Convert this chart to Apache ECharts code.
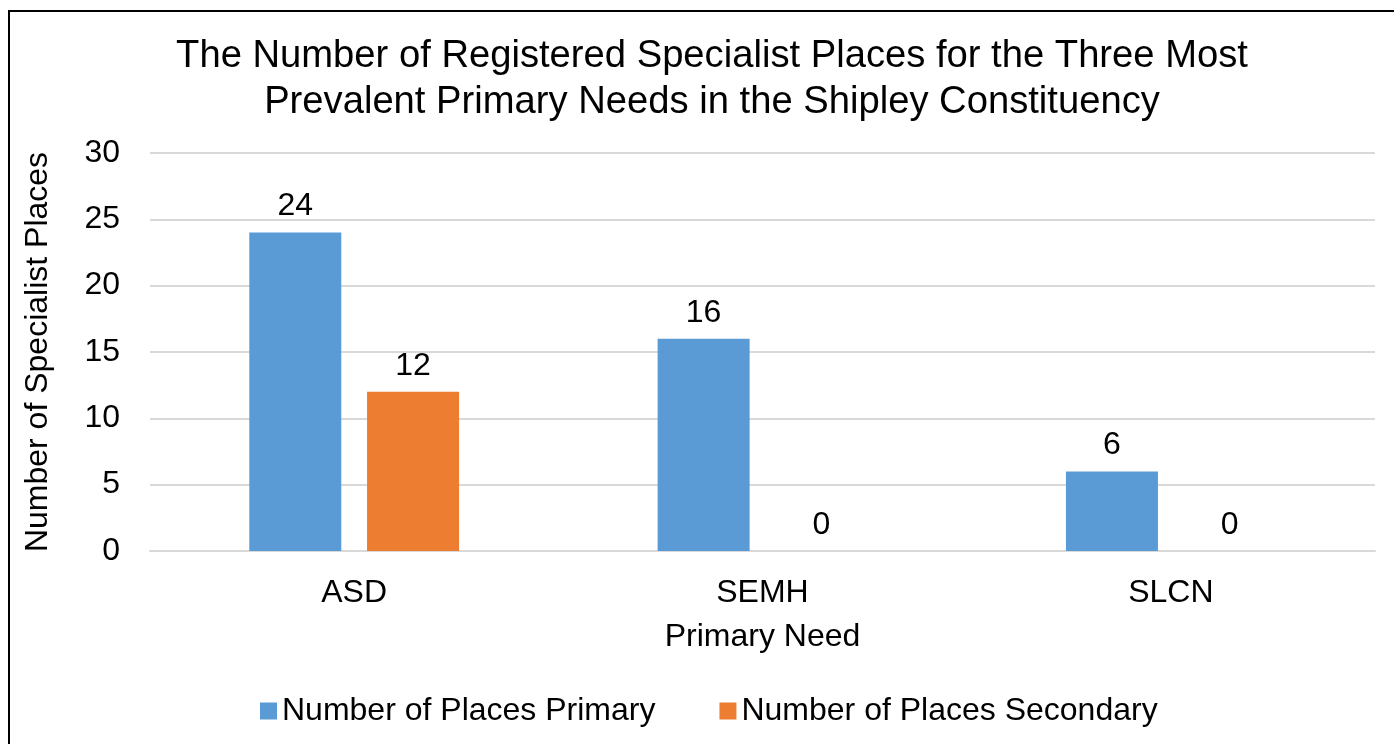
<!DOCTYPE html>
<html>
<head>
<meta charset="utf-8">
<script src="https://cdn.jsdelivr.net/npm/echarts@6/dist/echarts.min.js"></script>
<style>
  html, body { margin: 0; padding: 0; background: #fff; }
  #wrap { position: relative; width: 1394px; height: 744px; overflow: hidden; }
  #frame { position: absolute; left: 8px; top: 10px; width: 1500px; height: 800px;
           border-left: 2px solid #000; border-top: 2px solid #000; }
  #chart { position: absolute; left: 0; top: 0; width: 1394px; height: 744px; }
</style>
</head>
<body>
<div id="wrap">
  <div id="frame"></div>
  <div id="chart"></div>
</div>
<script>
const categories = ['ASD', 'SEMH', 'SLCN'];
const primaryPlaces = [24, 16, 6];
const secondaryPlaces = [12, 0, 0];
const seriesNames = ['Number of Places Primary', 'Number of Places Secondary'];

const font = 'Liberation Sans, Arial, sans-serif';
const fs = 32;

const chart = echarts.init(document.getElementById('chart'));

const labelStyle = {
    show: true,
    position: 'top',
    distance: 10,
    color: '#000',
    fontSize: fs,
    fontFamily: font
};

chart.setOption({
    animation: false,
    title: {
        text: 'The Number of Registered Specialist Places for the Three Most\nPrevalent Primary Needs in the Shipley Constituency',
        left: 707,
        textAlign: 'center',
        top: 28,
        textStyle: {
            fontFamily: font,
            fontSize: 38.2,
            fontWeight: 'normal',
            color: '#000',
            lineHeight: 46
        }
    },
    grid: {
        left: 150,
        right: 19,
        top: 153,
        bottom: 193
    },
    legend: {
        bottom: 12,
        left: 255,
        itemWidth: 17,
        itemHeight: 17,
        itemGap: 64,
        icon: 'rect',
        textStyle: { fontFamily: font, fontSize: fs, color: '#000' },
        data: seriesNames
    },
    xAxis: {
        type: 'category',
        data: categories,
        name: 'Primary Need',
        nameLocation: 'middle',
        nameGap: 70,
        nameTextStyle: { fontFamily: font, fontSize: fs, color: '#000' },
        axisLine: { lineStyle: { color: '#d9d9d9', width: 2 } },
        axisTick: { show: false },
        axisLabel: { fontFamily: font, fontSize: fs, color: '#000', margin: 26 }
    },
    yAxis: {
        type: 'value',
        min: 0,
        max: 30,
        interval: 5,
        name: 'Number of Specialist Places',
        nameLocation: 'middle',
        nameRotate: 90,
        nameGap: 96,
        nameTextStyle: { fontFamily: font, fontSize: fs, color: '#000' },
        axisLine: { show: false },
        axisTick: { show: false },
        splitLine: { lineStyle: { color: '#d9d9d9', width: 2 } },
        axisLabel: { fontFamily: font, fontSize: fs, color: '#000', margin: 30 }
    },
    series: [
        {
            name: seriesNames[0],
            type: 'bar',
            data: primaryPlaces,
            barWidth: 92,
            barGap: '28%',
            itemStyle: { color: '#5b9bd5' },
            label: labelStyle
        },
        {
            name: seriesNames[1],
            type: 'bar',
            data: secondaryPlaces,
            barWidth: 92,
            barGap: '28%',
            itemStyle: { color: '#ed7d31' },
            label: labelStyle
        }
    ]
});
</script>
</body>
</html>
